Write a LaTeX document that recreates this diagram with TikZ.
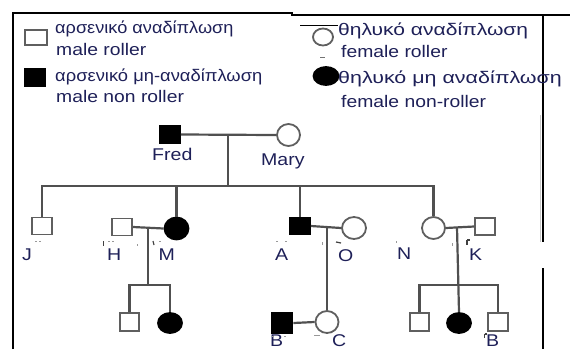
\documentclass[tikz,border=0pt]{standalone}
\usepackage{fontspec}
\usepackage{graphicx}
\setmainfont{Liberation Sans}[FakeStretch=1.15]
\usetikzlibrary{shapes.geometric}
\definecolor{inkblue}{RGB}{30,32,88}
\definecolor{linegray}{RGB}{80,80,80}
\definecolor{shapegray}{RGB}{95,95,95}
\tikzset{
  male/.style={rectangle, draw=shapegray, line width=1.8pt, fill=white,
    minimum width=20pt, minimum height=17pt, inner sep=0pt},
  maleaff/.style={male, draw=black, fill=black},
  female/.style={ellipse, draw=shapegray, line width=1.8pt, fill=white,
    minimum width=23pt, minimum height=22pt, inner sep=0pt},
  femaleaff/.style={female, draw=black, fill=black},
  kin/.style={draw=linegray, line width=2.2pt},
  frame/.style={draw=black, line width=1.4pt},
  speck/.style={draw=black!40, line width=1pt},
  darkspeck/.style={draw=black!75, line width=1.2pt},
  lab/.style={inner sep=0pt, anchor=base west, text=inkblue, font=\fontsize{17}{19}\selectfont},
  leg/.style={inner sep=0pt, anchor=base west, text=inkblue, font=\fontsize{16.8}{19}\selectfont},
}
\begin{document}
\begin{tikzpicture}[x=1pt,y=-1pt]
\useasboundingbox (0,0) rectangle (570,349);

% outer frame
\draw[frame] (13,349) -- (13,13) -- (293,13);
\draw[frame] (291,15) -- (570,15);
\draw[frame] (543,15) -- (543,242);
\draw[frame] (543,268) -- (543,349);
\draw[draw=black!22, line width=0.8pt] (540.5,115) -- (540.5,242);

% legend
\node[male, minimum width=22pt, minimum height=15pt] (lm) at (36,37.5) {};
\node[maleaff] (lma) at (35,77.5) {};
\node[female, minimum width=20pt, minimum height=17pt] (lf) at (323,37) {};
\node[femaleaff, minimum width=25pt, minimum height=18pt] (lfa) at (326,76) {};
\draw[black, line width=1pt] (300,25) -- (338,25);
\draw[black!55, line width=1pt] (320,57) -- (325,57);

\node[leg] (t1) at (55,33) {\scalebox{0.94}[1]{αρσενικό αναδίπλωση}};
\node[leg] (t2) at (56,55) {male roller};
\node[leg] (t3) at (55,81) {\scalebox{0.95}[1]{αρσενικό μη-αναδίπλωση}};
\node[leg] (t4) at (56,102) {male non roller};
\node[leg] (t5) at (338,35) {\scalebox{1.09}[1]{θηλυκό αναδίπλωση}};
\node[leg] (t6) at (341,57) {female roller};
\node[leg] (t7) at (338,83) {\scalebox{1.11}[1]{θηλυκό μη αναδίπλωση}};
\node[leg] (t8) at (341,107) {female non-roller};

% generation I
\node[maleaff] (fred) at (170,134.5) {};
\node[female] (mary) at (288.5,135) {};
\node[lab] (lfred) at (152,160) {Fred};
\node[lab] (lmary) at (261,165) {Mary};

% generation II
\node[male] (j) at (42,226) {};
\node[male] (h) at (122,227) {};
\node[femaleaff, minimum width=24pt] (m) at (176.5,228.5) {};
\node[maleaff] (a) at (300,226) {};
\node[female, minimum width=24pt] (o) at (354,228) {};
\node[female] (n) at (433.5,228) {};
\node[male] (k) at (485,226.5) {};

\node[lab] (lj) at (22,260) {J};
\node[lab] (lh) at (107,260) {H};
\node[lab] (lm2) at (158.5,260) {M};
\node[lab] (la) at (275,260) {A};
\node[lab] (lo) at (338,261) {O};
\node[lab] (ln) at (397,259) {N};
\node[lab] (lk) at (469,260) {K};

% stray specks beside the generation II names
\draw[speck] (35,241) -- (37,241) (39,241) -- (41,241);
\draw[darkspeck] (103.5,241) -- (103.5,246);
\draw[speck] (108,241) -- (110,241) (112,241) -- (114,241);
\draw[speck] (137,244) -- (137,246);
\draw[darkspeck] (153,241) -- (154,245);
\draw[speck] (159,241) -- (161,241);
\draw[speck] (276,241) -- (278,241) (285,241) -- (287,241);
\draw[speck] (322,242) -- (322,245);
\draw[darkspeck] (336,242) -- (341,243);
\draw[speck] (396,241) -- (396,243);
\draw[speck] (452,243) -- (452,246);
\draw[darkspeck] (467,240) -- (467,245) (467,240) -- (470,240);

% generation III
\node[male, minimum width=19pt, minimum height=18pt] (hc1) at (129.5,322) {};
\node[femaleaff, minimum width=24pt, minimum height=20pt] (hc2) at (170,323) {};
\node[maleaff, minimum width=21pt, minimum height=20pt] (b) at (282,323) {};
\node[female] (c) at (327,322) {};
\node[male, minimum width=19pt, minimum height=18pt] (nc1) at (419.5,322) {};
\node[femaleaff, minimum width=24pt, minimum height=20pt] (nc2) at (459,323) {};
\node[male, minimum width=20pt, minimum height=18pt] (nc3) at (498,322) {};

\node[lab] (lb) at (270,346) {B};
\node[lab] (lc) at (332,346) {C};
\node[lab] (lb2) at (486,346) {B};
\draw[speck] (272,336.5) -- (274,336.5) (284,336.5) -- (286,336.5) (314,335.5) -- (320,335.5);
\draw[darkspeck] (484.5,334) -- (484.5,338) (484.5,334) -- (487,334);

% mating lines, descent lines and sibships
\coordinate (fm) at (228,134.5);
\coordinate (sib) at (228,186);
\draw[kin] (fred.east) -- (mary.west);
\draw[kin] (fm) -- (sib);
\draw[kin] (j.north) -- (j.north |- sib) -- (n.north |- sib) -- (n.north);
\draw[kin] (m.north) -- (m.north |- sib);
\draw[kin] (a.north) -- (a.north |- sib);

\coordinate (hm) at (148,227);
\coordinate (hmsib) at (148,285);
\draw[kin] (h.east) -- (m.west);
\draw[kin] (hm) -- (hmsib);
\draw[kin] (hc1.north) |- (hmsib) -| (hc2.north);

\coordinate (ao) at (327,227);
\draw[kin] (a.east) -- (o.west);
\draw[kin] (ao) -- (c.north);
\draw[kin] (b.east) -- (c.west);

\coordinate (nk) at (457,227);
\coordinate (nksib) at (457,285);
\draw[kin] (n.east) -- (k.west);
\draw[kin] (nk) -- (nc2.north);
\draw[kin] (nc1.north) |- (nksib) -| (nc3.north);
\end{tikzpicture}
\end{document}
